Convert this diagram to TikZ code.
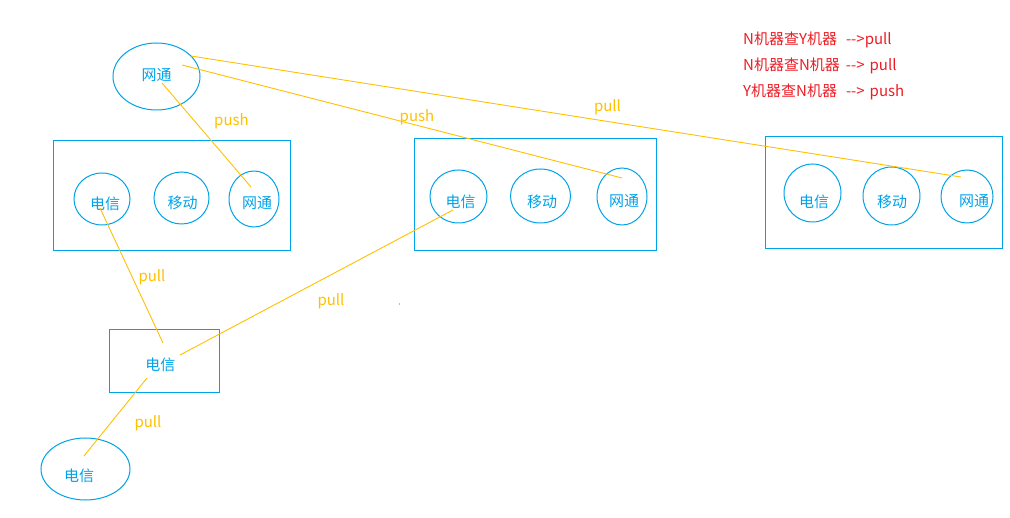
\documentclass[tikz,border=0pt]{standalone}
\usepackage{fontspec}
\setmainfont{Noto Sans CJK SC}[Ligatures=TeXOff]
\usetikzlibrary{calc,shapes.geometric}
\definecolor{skyb}{HTML}{00A2E8}
\definecolor{gold}{HTML}{FFC000}
\definecolor{rred}{HTML}{ED1C24}
\newsavebox\shbox
% \sh{dx}{dy}{text}: move the text right by dx and down by dy, keeping its box
\newcommand\sh[3]{\sbox\shbox{#3}\raisebox{-#2}[\ht\shbox][\dp\shbox]{\makebox[\wd\shbox][l]{\hspace*{#1}\usebox\shbox}}}
\tikzset{
  ell/.style={draw=skyb, line width=1pt, ellipse, inner sep=0pt, text=skyb, font=\fontsize{15}{17}\selectfont},
  boxx/.style={draw=skyb, line width=1pt, rectangle, inner sep=0pt, text=skyb, font=\fontsize{15}{17}\selectfont},
  link/.style={draw=gold, line width=0.9pt},
  lbl/.style={text=gold, inner sep=0pt, font=\fontsize{15}{17}\selectfont},
  legend/.style={text=rred, inner sep=0pt, anchor=base west, font=\fontsize{15}{17}\selectfont},
}
\begin{document}
\begin{tikzpicture}[x=1pt,y=-1pt]
\useasboundingbox (0,0) rectangle (1010,518);
% boxes
\node[boxx, minimum width=237pt, minimum height=110pt] (box1) at (171.5,196) {};
\node[boxx, minimum width=242pt, minimum height=112pt] (box2) at (535,195) {};
\node[boxx, minimum width=237pt, minimum height=112pt] (box3) at (883.5,193) {};
\node[boxx, minimum width=110pt, minimum height=63pt] (sbox) at (164,361.5) {\sh{-3.7pt}{3pt}{电信}};
% ellipses
\node[ell, minimum width=87pt, minimum height=67pt] (top) at (156.5,76.5) {\sh{0pt}{-1.5pt}{网通}};
\node[ell, minimum width=89pt, minimum height=62pt] (bot) at (85.5,469) {\sh{-6.5pt}{6.5pt}{电信}};
\node[ell, minimum width=56pt, minimum height=52pt] (b1t) at (102,199) {\sh{3pt}{4.5pt}{电信}};
\node[ell, minimum width=55pt, minimum height=52pt] (b1m) at (181.5,198) {\sh{1pt}{5pt}{移动}};
\node[ell, minimum width=50pt, minimum height=56pt] (b1w) at (254,199) {\sh{3pt}{4pt}{网通}};
\node[ell, minimum width=57pt, minimum height=53pt] (b2t) at (458.5,196.5) {\sh{2pt}{5.5pt}{电信}};
\node[ell, minimum width=60pt, minimum height=54pt] (b2m) at (540.5,196) {\sh{1.5pt}{6pt}{移动}};
\node[ell, minimum width=50pt, minimum height=57pt] (b2w) at (622,196.5) {\sh{2pt}{5pt}{网通}};
\node[ell, minimum width=57pt, minimum height=58pt] (b3t) at (812.5,193) {\sh{1.5pt}{8.5pt}{电信}};
\node[ell, minimum width=57pt, minimum height=58pt] (b3m) at (891.5,196) {\sh{0.5pt}{6pt}{移动}};
\node[ell, minimum width=52pt, minimum height=53pt] (b3w) at (967,196.5) {\sh{7pt}{4.5pt}{网通}};
% links
\draw[link] ($(top)+(5.5,6.5)$) -- ($(b1w)+(-3,-12)$);
\draw[link] ($(top)+(25.5,-11.5)$) -- ($(b2w)+(0,-18.5)$);
\draw[link] ($(top)+(34.5,-20.5)$) -- ($(b3w)+(-6,-19.5)$);
\draw[link] ($(b1t)+(-2,9)$) -- ($(sbox)+(-1,-18.5)$);
\draw[link] ($(sbox)+(16,-6.5)$) -- ($(b2t)+(-5.5,13.5)$);
\draw[link] ($(sbox)+(-17,16.5)$) -- ($(bot)+(-1.5,-13)$);
\coordinate (tick) at (399,303);
\draw[link] (tick) -- ++(0,2);
% labels
\node[lbl] (l1) at (231.5,121) {push};
\node[lbl] (l2) at (417,117) {push};
\node[lbl] (l3) at (607.5,107.5) {pull};
\node[lbl] (l4) at (152,277) {pull};
\node[lbl] (l5) at (331,301) {pull};
\node[lbl] (l6) at (148,423) {pull};
% legend
\node[legend] (g1) at (743,45) {N机器查Y机器\hspace{9pt}-->pull};
\node[legend] (g2) at (743,71) {N机器查N机器\hspace{6pt}-->\hspace{5pt}pull};
\node[legend] (g3) at (743,97) {Y机器查N机器\hspace{9pt}-->\hspace{5pt}push};
\end{tikzpicture}
\end{document}
